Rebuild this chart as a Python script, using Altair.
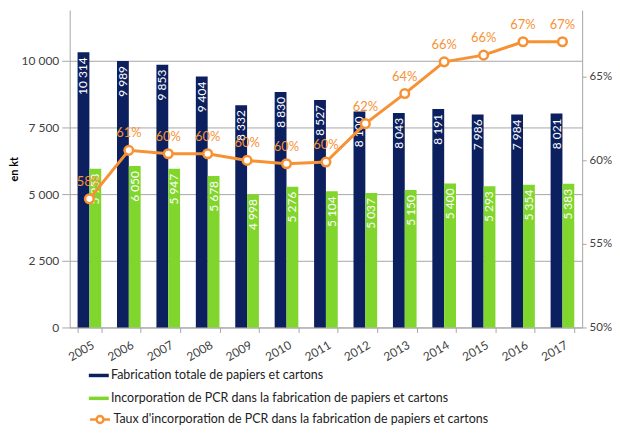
import altair as alt
import pandas as pd

years = ["2005", "2006", "2007", "2008", "2009", "2010", "2011", "2012", "2013", "2014", "2015", "2016", "2017"]
total = [10314, 9989, 9853, 9404, 8332, 8830, 8527, 8100, 8043, 8191, 7986, 7984, 8021]
pcr = [5953, 6050, 5947, 5678, 4998, 5276, 5104, 5037, 5150, 5400, 5293, 5354, 5383]
rate = [57.7, 60.6, 60.4, 60.4, 60.0, 59.8, 59.9, 62.2, 64.0, 65.9, 66.3, 67.1, 67.1]
rate_labels = ["58%", "61%", "60%", "60%", "60%", "60%", "60%", "62%", "64%", "66%", "66%", "67%", "67%"]

S_TOTAL = "Fabrication totale de papiers et cartons"
S_PCR = "Incorporation de PCR dans la fabrication de papiers et cartons"
S_RATE = "Taux d'incorporation de PCR dans la fabrication de papiers et cartons"

BLUE = "#0C1F5E"
GREEN = "#80D62C"
ORANGE = "#F79234"
GRAY = "#A6A6A6"
FONT = "Lato"


def fmt(v):
    return f"{v:,}".replace(",", " ")


rows = []
for y, t, p in zip(years, total, pcr):
    rows.append({"year": y, "serie": S_TOTAL, "value": t, "label": fmt(t)})
    rows.append({"year": y, "serie": S_PCR, "value": p, "label": fmt(p)})
bars_df = pd.DataFrame(rows)
rate_df = pd.DataFrame({"year": years, "rate": rate, "label": rate_labels, "serie": [S_RATE] * len(years)})

xscale = alt.Scale(domain=years, paddingInner=0.4, paddingOuter=0.2)
x_enc = alt.X(
    "year:N",
    scale=xscale,
    title=None,
    axis=alt.Axis(
        labelAngle=-30, labelAlign="right", labelBaseline="top", tickBand="extent",
        tickSize=5, labelPadding=7, labelOffset=1, grid=False,
    ),
)
xoff = alt.XOffset("serie:N", sort=[S_TOTAL, S_PCR], scale=alt.Scale(domain=[S_TOTAL, S_PCR], paddingInner=0, paddingOuter=0))

yleft = alt.Y(
    "value:Q",
    scale=alt.Scale(domain=[0, 11900], nice=False, zero=True),
    axis=alt.Axis(
        values=[0, 2500, 5000, 7500, 10000],
        labelExpr="replace(format(datum.value, ','), ',', ' ')",
        title="en kt", titleFontWeight="bold", titleFontSize=11, titleColor="#000000",
        tickSize=8, labelPadding=3, titlePadding=2, grid=True,
    ),
)

LEG = dict(
    title=None, orient="none", legendX=23, direction="vertical",
    symbolSize=144, rowPadding=10, labelLimit=600, labelFontSize=12.5,
    labelColor="#222222", labelFont=FONT, labelOffset=6,
)

bars = alt.Chart(bars_df).mark_bar().encode(
    x=x_enc,
    xOffset=xoff,
    y=yleft,
    color=alt.Color(
        "serie:N",
        scale=alt.Scale(domain=[S_TOTAL, S_PCR], range=[BLUE, GREEN]),
        legend=alt.Legend(
            legendY=361, symbolType="M-1.67,-0.29h3.34v0.58h-3.34z", symbolStrokeWidth=0, **LEG
        ),
    ),
)

bar_text = alt.Chart(bars_df).mark_text(
    angle=270, align="right", baseline="middle", dx=-5, color="white", fontSize=12, font=FONT
).encode(
    x=alt.X("year:N", scale=xscale),
    xOffset=xoff,
    y=alt.Y("value:Q"),
    text="label:N",
)

left = alt.layer(bars, bar_text)

yright = alt.Y(
    "rate:Q",
    scale=alt.Scale(domain=[50, 69], nice=False, zero=False),
    axis=alt.Axis(
        orient="right", values=[50, 55, 60, 65], labelExpr="datum.value + '%'",
        title=None, tickSize=4, labelPadding=3, labelFontSize=11.5, grid=False,
    ),
)

line = alt.Chart(rate_df).mark_line(strokeWidth=3).encode(
    x=alt.X("year:N", scale=xscale),
    y=yright,
    stroke=alt.Stroke(
        "serie:N",
        scale=alt.Scale(domain=[S_RATE], range=[ORANGE]),
        legend=alt.Legend(
            legendY=404,
            symbolType="M-1.67,0H-0.58M0.58,0H1.67M0.58,0A0.58,0.58,0,1,1,-0.58,0A0.58,0.58,0,1,1,0.58,0",
            symbolStrokeWidth=2.5, symbolFillColor="white", **LEG
        ),
    ),
)

points = alt.Chart(rate_df).mark_point(
    filled=True, fill="white", stroke=ORANGE, strokeWidth=2.5, size=75, opacity=1
).encode(
    x=alt.X("year:N", scale=xscale),
    y=alt.Y("rate:Q"),
)

rate_text = alt.Chart(rate_df).mark_text(
    dy=-17, color=ORANGE, fontSize=13, font=FONT
).encode(
    x=alt.X("year:N", scale=xscale),
    y=alt.Y("rate:Q"),
    text="label:N",
)

right = alt.layer(line, points, rate_text)

chart = (
    alt.layer(left, right)
    .resolve_scale(y="independent")
    .properties(width=515, height=319, padding={"top": 1, "left": 0, "right": 0, "bottom": 0})
    .configure_view(stroke=None)
    .configure_axis(
        domainColor=GRAY, gridColor=GRAY, tickColor=GRAY, labelColor="#404040",
        labelFont=FONT, labelFontSize=12, titleFont=FONT,
    )
)

chart.save("out.html", embed_options={"renderer": "svg", "actions": False})
